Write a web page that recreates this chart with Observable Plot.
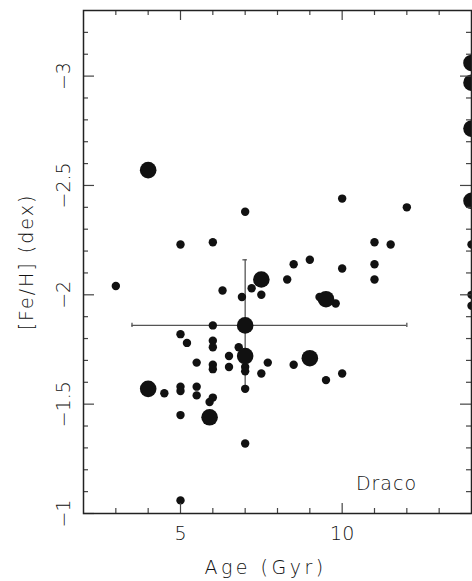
<!DOCTYPE html>
<html><head><meta charset="utf-8">
<script src="https://cdn.jsdelivr.net/npm/d3@7"></script>
<script src="https://cdn.jsdelivr.net/npm/@observablehq/plot@0.6"></script>
<style>body{margin:0;background:#fff}</style>
</head><body><div id="chart"></div>
<script>
// Small symbols: age (Gyr) and [Fe/H]
const smallAge = [3.0, 5.0, 6.0, 7.0, 10.0, 12.0, 11.0, 11.5, 11.0, 11.0, 10.0, 8.5, 9.0, 8.3, 7.5, 7.2, 6.9, 6.3, 9.3, 9.8,
  6.0, 5.0, 5.2, 6.0, 6.0, 6.8, 6.5, 5.5, 6.0, 6.0, 6.5, 7.0, 7.0, 7.7, 7.5, 8.5, 9.5, 10.0, 7.0, 4.5,
  5.0, 5.0, 5.5, 5.5, 6.0, 5.9, 5.0, 7.0, 5.0, 14, 14, 14];
const smallFeH = [-2.04, -2.23, -2.24, -2.38, -2.44, -2.40, -2.24, -2.23, -2.14, -2.07, -2.12, -2.14, -2.16, -2.07, -2.00, -2.03, -1.99, -2.02, -1.99, -1.96,
  -1.86, -1.82, -1.78, -1.79, -1.76, -1.76, -1.72, -1.69, -1.68, -1.66, -1.67, -1.67, -1.65, -1.69, -1.64, -1.68, -1.61, -1.64, -1.57, -1.55,
  -1.58, -1.56, -1.58, -1.54, -1.53, -1.51, -1.45, -1.32, -1.06, -2.23, -2.00, -1.95];
// Large symbols
const largeAge = [4.0, 4.0, 5.9, 7.0, 7.0, 7.5, 9.0, 9.5, 14, 14, 14, 14];
const largeFeH = [-2.57, -1.57, -1.44, -1.86, -1.72, -2.07, -1.71, -1.98, -3.06, -2.97, -2.76, -2.43];
// Typical error bar
const errAge = [7], errFeH = [-1.86];
const errAgeLo = [3.5], errAgeHi = [12];
const errFeHLo = [-2.16], errFeHHi = [-1.56];
// Ticks and labels
const xMajor = [5, 10];
const xMinor = [3, 4, 6, 7, 8, 9, 11, 12, 13];
const yMajor = [-3, -2.5, -2, -1.5, -1];
const yMajorLabels = ["−3", "−2.5", "−2", "−1.5", "−1"];
const yMinor = [-3.2, -3.1, -2.9, -2.8, -2.7, -2.6, -2.4, -2.3, -2.2, -2.1, -1.9, -1.8, -1.7, -1.6, -1.4, -1.3, -1.2, -1.1];
const label = ["Draco"];
const xTitle = ["Age (Gyr)"], yTitle = ["[Fe/H] (dex)"];

const W = 472, H = 581, mL = 83, mR = 1, mT = 10, mB = 68;
const fw = W - mL - mR, fh = H - mT - mB;
const small = smallAge.map((a, i) => ({age: a, feh: smallFeH[i]}));
const large = largeAge.map((a, i) => ({age: a, feh: largeFeH[i]}));
const err = errAge.map((a, i) => ({age: a, feh: errFeH[i], a1: errAgeLo[i], a2: errAgeHi[i], f1: errFeHLo[i], f2: errFeHHi[i]}));
const capY = 0.01, capX = 0.07;
const tickStroke = "#444";
const ink = "#111";

const chart = Plot.plot({
  width: W, height: H,
  marginLeft: mL, marginRight: mR, marginTop: mT, marginBottom: mB,
  style: {fontFamily: "DejaVu Sans", fontSize: "19px", fontWeight: 200, color: ink, background: "#fff"},
  x: {domain: [2, 14]},
  y: {domain: [-1, -3.3]},
  marks: [
    Plot.ruleY(err, {y: "feh", x1: "a1", x2: "a2", stroke: "#555", strokeWidth: 1.3}),
    Plot.ruleX(err, {x: "age", y1: "f1", y2: "f2", stroke: "#555", strokeWidth: 1.3}),
    Plot.ruleX(err, {x: "a1", y1: d => d.feh - capY, y2: d => d.feh + capY, stroke: "#555", strokeWidth: 1.3}),
    Plot.ruleX(err, {x: "a2", y1: d => d.feh - capY, y2: d => d.feh + capY, stroke: "#555", strokeWidth: 1.3}),
    Plot.ruleY(err, {y: "f1", x1: d => d.age - capX, x2: d => d.age + capX, stroke: "#555", strokeWidth: 1.3}),
    Plot.dot(small, {x: "age", y: "feh", r: 4.2, fill: "#111", stroke: "none", clip: "frame"}),
    Plot.dot(large, {x: "age", y: "feh", r: 8.3, fill: "#111", stroke: "none", clip: "frame"}),
    Plot.tickX(xMajor, {x: d => d, insetTop: fh - 10, stroke: tickStroke, strokeWidth: 1.2}),
    Plot.tickX(xMinor, {x: d => d, insetTop: fh - 5, stroke: tickStroke, strokeWidth: 1.2}),
    Plot.tickX(xMajor, {x: d => d, insetBottom: fh - 10, stroke: tickStroke, strokeWidth: 1.2}),
    Plot.tickX(xMinor, {x: d => d, insetBottom: fh - 5, stroke: tickStroke, strokeWidth: 1.2}),
    Plot.tickY(yMajor, {y: d => d, insetRight: fw - 11, stroke: tickStroke, strokeWidth: 1.2}),
    Plot.tickY(yMinor, {y: d => d, insetRight: fw - 5, stroke: tickStroke, strokeWidth: 1.2}),
    Plot.tickY(yMajor, {y: d => d, insetLeft: fw - 11, stroke: tickStroke, strokeWidth: 1.2}),
    Plot.tickY(yMinor, {y: d => d, insetLeft: fw - 5, stroke: tickStroke, strokeWidth: 1.2}),
    Plot.frame({stroke: "#222", strokeWidth: 1.5}),
    Plot.axisX(xMajor, {anchor: "bottom", tickSize: 0, tickPadding: 13, label: null, fill: ink}),
    Plot.axisY(yMajor, {anchor: "left", tickSize: 0, tickPadding: 14, tickRotate: -90, label: null, fill: ink,
      tickFormat: d => yMajorLabels[yMajor.indexOf(d)]}),
    Plot.text(xTitle, {frameAnchor: "bottom", dx: -12, dy: 60, lineAnchor: "bottom", textAnchor: "middle", fill: ink, fontSize: 19}),
    Plot.text(yTitle, {frameAnchor: "left", dx: -51, rotate: -90, lineAnchor: "bottom", textAnchor: "middle", fill: ink, fontSize: 19}),
    Plot.text(label, {frameAnchor: "bottom-right", dx: -85, dy: -30, textAnchor: "middle", lineAnchor: "middle", fill: ink, fontSize: 19})
  ]
});
// letter spacing to mimic the wide plotter font
d3.select(chart).selectAll("text").each(function() {
  const t = this.textContent;
  if (t === xTitle[0]) this.setAttribute("letter-spacing", "3.5px");
  else if (t === yTitle[0]) this.setAttribute("letter-spacing", "2px");
  else if (t === label[0]) this.setAttribute("letter-spacing", "1px");
});
document.getElementById("chart").appendChild(chart);
</script>
</body></html>
